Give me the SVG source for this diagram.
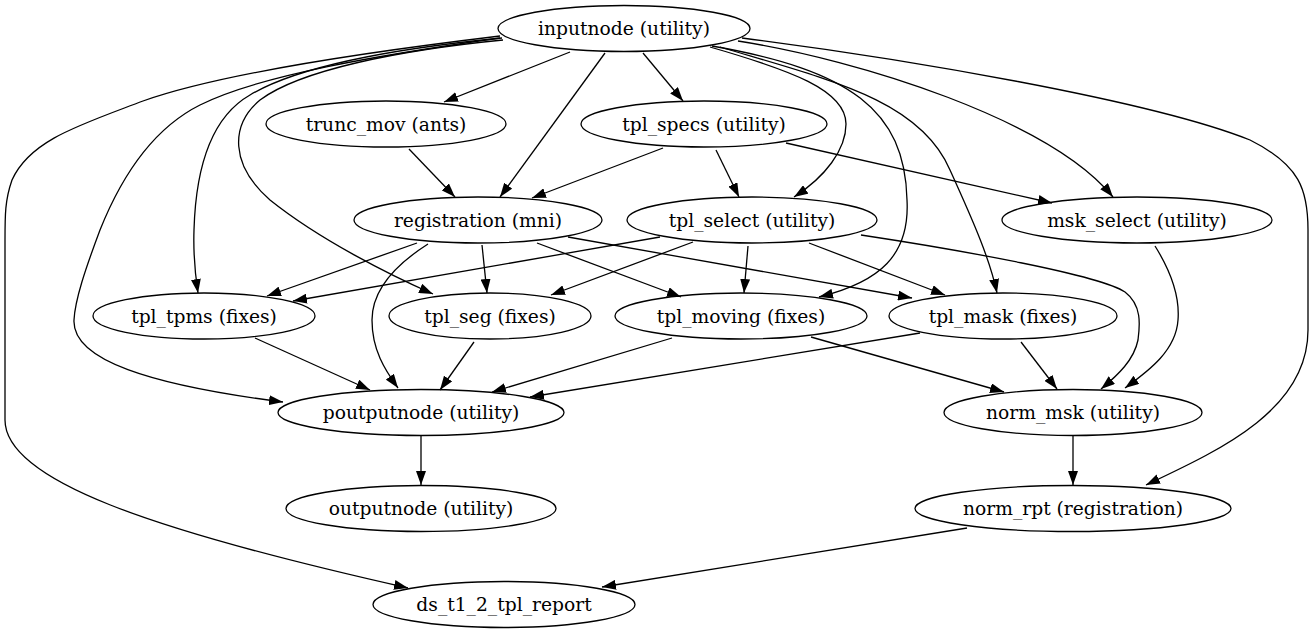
<svg xmlns="http://www.w3.org/2000/svg" width="1315" height="635" viewBox="0 0 1315 635">
<style>
.n ellipse{fill:none;stroke:#000;stroke-width:1.3}
.n text{font-family:"DejaVu Serif",serif;font-size:18.7px;text-anchor:middle;fill:#000}
#edges path{fill:none;stroke:#000;stroke-width:1.3;marker-end:url(#ah)}
</style>
<defs>
<marker id="ah" viewBox="0 0 14 10" markerWidth="14" markerHeight="10" refX="14" refY="5" orient="auto" markerUnits="userSpaceOnUse"><path d="M0,0 L14,5 L0,10 z" fill="#000"/></marker>
</defs>
<rect width="1315" height="635" fill="#fff"/>
<g id="edges">
<path d="M570,52 L444,102"/>
<path d="M643,53 L683,101"/>
<path d="M605,53 L500,197"/>
<path d="M710,47 C790,70 846,90 846,124 C846,150 825,177 794,197"/>
<path d="M738,41 C860,60 1050,120 1113,197"/>
<path d="M742,38 C900,58 1150,100 1250,140 C1300,165 1308,190 1308,230 L1308,330 C1308,410 1220,450 1146,485"/>
<path d="M720,47 C830,80 920,100 950,170 C975,225 990,260 997,293"/>
<path d="M712,46 C850,70 905,110 907,200 C910,255 880,282 819,297"/>
<path d="M502,38 C400,48 300,65 250,95 C215,115 196,160 194,230 C193,260 196,280 198,293"/>
<path d="M503,40 C400,50 300,70 260,100 C230,125 230,165 270,200 C320,240 390,275 433,294"/>
<path d="M500,38 C380,55 260,75 200,105 C150,130 120,180 100,230 C85,270 75,300 74,320 C72,360 150,385 283,402"/>
<path d="M500,36 C400,48 230,70 143,101 C80,125 30,140 12,180 C5,200 5,215 5,240 L5,420 C5,480 150,530 408,588"/>
<path d="M409,149 L455,197"/>
<path d="M663,148 L532,198"/>
<path d="M716,150 L739,197"/>
<path d="M786,143 L1052,203"/>
<path d="M417,243 L267,296"/>
<path d="M482,245 L487,293"/>
<path d="M537,243 L681,297"/>
<path d="M568,237 L912,298"/>
<path d="M428,244 C395,265 372,290 372,320 C372,350 385,370 398,388"/>
<path d="M660,237 L293,301"/>
<path d="M693,242 L551,295"/>
<path d="M748,246 L744,293"/>
<path d="M809,243 L945,295"/>
<path d="M861,235 C960,250 1100,275 1125,292 C1142,305 1140,325 1138,340 C1134,360 1118,375 1101,389"/>
<path d="M1155,246 C1170,270 1180,295 1178,320 C1176,350 1150,370 1125,388"/>
<path d="M255,338 L370,390"/>
<path d="M474,342 L440,390"/>
<path d="M672,338 L492,392"/>
<path d="M920,333 L530,397"/>
<path d="M811,337 L1004,392"/>
<path d="M1021,342 L1057,389"/>
<path d="M421,436 L421,485"/>
<path d="M1073,436 L1073,485"/>
<path d="M967,528 L602,587"/>
</g>
<g id="inputnode" class="n"><ellipse cx="624" cy="28.5" rx="126" ry="23"/><text x="624" y="35">inputnode (utility)</text></g>
<g id="trunc_mov" class="n"><ellipse cx="386" cy="124" rx="120" ry="23"/><text x="386" y="130.5">trunc_mov (ants)</text></g>
<g id="tpl_specs" class="n"><ellipse cx="704" cy="124" rx="123" ry="23"/><text x="704" y="130.5">tpl_specs (utility)</text></g>
<g id="registration" class="n"><ellipse cx="478" cy="220" rx="124" ry="23"/><text x="478" y="226.5">registration (mni)</text></g>
<g id="tpl_select" class="n"><ellipse cx="752" cy="220" rx="125" ry="23"/><text x="752" y="226.5">tpl_select (utility)</text></g>
<g id="msk_select" class="n"><ellipse cx="1137" cy="220" rx="135" ry="23"/><text x="1137" y="226.5">msk_select (utility)</text></g>
<g id="tpl_tpms" class="n"><ellipse cx="204" cy="316" rx="111" ry="23"/><text x="204" y="322.5">tpl_tpms (fixes)</text></g>
<g id="tpl_seg" class="n"><ellipse cx="490" cy="316" rx="101" ry="23"/><text x="490" y="322.5">tpl_seg (fixes)</text></g>
<g id="tpl_moving" class="n"><ellipse cx="741" cy="316" rx="126" ry="23"/><text x="741" y="322.5">tpl_moving (fixes)</text></g>
<g id="tpl_mask" class="n"><ellipse cx="1003" cy="316" rx="114" ry="23"/><text x="1003" y="322.5">tpl_mask (fixes)</text></g>
<g id="poutputnode" class="n"><ellipse cx="421" cy="412.5" rx="143" ry="23"/><text x="421" y="419">poutputnode (utility)</text></g>
<g id="norm_msk" class="n"><ellipse cx="1073" cy="412.5" rx="129" ry="23"/><text x="1073" y="419">norm_msk (utility)</text></g>
<g id="outputnode" class="n"><ellipse cx="421" cy="508.5" rx="135" ry="23"/><text x="421" y="515">outputnode (utility)</text></g>
<g id="norm_rpt" class="n"><ellipse cx="1073" cy="508.5" rx="158" ry="23"/><text x="1073" y="515">norm_rpt (registration)</text></g>
<g id="ds_t1_2_tpl_report" class="n"><ellipse cx="504" cy="604.5" rx="131" ry="23"/><text x="504" y="611">ds_t1_2_tpl_report</text></g>
</svg>
